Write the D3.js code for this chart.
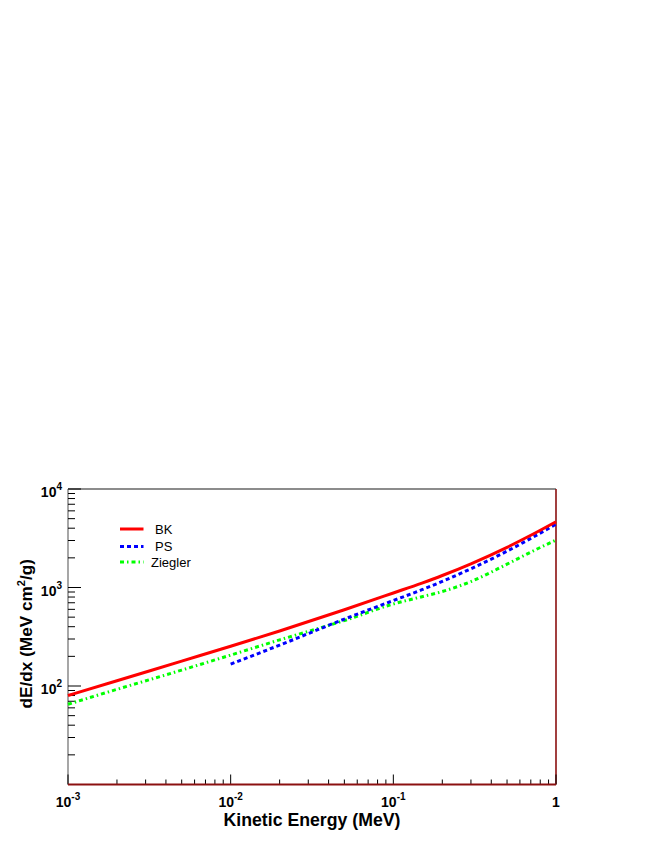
<!DOCTYPE html>
<html>
<head>
<meta charset="utf-8">
<script src="https://cdn.jsdelivr.net/npm/d3@7"></script>
<style>
    body { margin: 0; background: #fff; }
    text { font-family: "Liberation Sans", Arial, Helvetica, sans-serif; }
</style>
</head>
<body>
<svg id="chart_svg" width="654" height="846"></svg>
<script>
// kinetic energy grid (MeV) and stopping powers (MeV cm2/g)
const g_energy = [0.001, 0.002, 0.005, 0.01, 0.02, 0.05, 0.1, 0.15, 0.2, 0.3, 0.5, 0.7, 1.0];
const g_bk = [80, 113, 179, 253, 362, 594, 880, 1110, 1324, 1740, 2560, 3390, 4656];
const g_ps = [null, null, null, 167, 260, 478, 737, 950, 1153, 1550, 2340, 3150, 4400];
const g_ziegler = [65.2, 92.5, 145, 206, 294, 462, 680, 807, 910, 1150, 1725, 2287, 3035];

const g_series_names = ["BK", "PS", "Ziegler"];
const g_series_colors = ["#ff0000", "#0000ff", "#00ff00"];
const g_series_dash = [null, "4,3", "4,3,1.5,3"];

const g_x_ticks = [-3, -2, -1, 0]; // exponents, "10^0" printed as "1"
const g_y_ticks = [2, 3, 4];

// frame
const gv_left = 68, gv_right = 556, gv_top = 489, gv_bottom = 784.5;

var g_svg, g_x_scaler, g_y_scaler;

initialize_svg();
draw_axes();
draw_curves();
draw_legend();

function initialize_svg() {
    g_svg = d3.select("#chart_svg");
    g_svg.append("rect").attr("width", 654).attr("height", 846).attr("fill", "#fff");
    g_x_scaler = d3.scaleLog().domain([1e-3, 1]).range([gv_left, gv_right]); // energy to pixel
    g_y_scaler = d3.scaleLog().domain([10, 1e4]).range([gv_bottom, gv_top]); // dE/dx to pixel
}

function draw_axes() {
    var g = g_svg.append("g");

    // frame: top & left grey, bottom & right dark red
    g.append("line").attr("x1", gv_left).attr("x2", gv_right).attr("y1", gv_top).attr("y2", gv_top)
        .attr("style", "stroke:#666; stroke-width:1.3");
    g.append("line").attr("x1", gv_right).attr("x2", gv_right).attr("y1", gv_top).attr("y2", gv_bottom)
        .attr("style", "stroke:#8b1010; stroke-width:1.6");
    g.append("line").attr("x1", gv_left).attr("x2", gv_left).attr("y1", gv_top).attr("y2", gv_bottom)
        .attr("style", "stroke:#777; stroke-width:1.3");

    // x ticks (major + minor), pointing up into the frame
    var x_minor = [];
    d3.range(-3, 0).forEach(function (ex) {
        d3.range(2, 10).forEach(m => x_minor.push(m * Math.pow(10, ex)));
    });
    g.selectAll(".x_minor").data(x_minor).join("line").classed("x_minor", true)
        .attr("x1", d => g_x_scaler(d)).attr("x2", d => g_x_scaler(d))
        .attr("y1", gv_bottom).attr("y2", gv_bottom - 5)
        .attr("style", "stroke:#000; stroke-width:1");
    g.selectAll(".x_major").data(g_x_ticks).join("line").classed("x_major", true)
        .attr("x1", d => g_x_scaler(Math.pow(10, d))).attr("x2", d => g_x_scaler(Math.pow(10, d)))
        .attr("y1", gv_bottom).attr("y2", gv_bottom - 10)
        .attr("style", "stroke:#000; stroke-width:1");
    g.append("line").attr("x1", gv_left).attr("x2", gv_right).attr("y1", gv_bottom).attr("y2", gv_bottom)
        .attr("style", "stroke:#8b1010; stroke-width:2");

    // y ticks (major + minor), pointing right into the frame
    var y_minor = [];
    d3.range(1, 4).forEach(function (ex) {
        d3.range(2, 10).forEach(m => y_minor.push(m * Math.pow(10, ex)));
    });
    g.selectAll(".y_minor").data(y_minor).join("line").classed("y_minor", true)
        .attr("x1", gv_left).attr("x2", gv_left + 7)
        .attr("y1", d => g_y_scaler(d)).attr("y2", d => g_y_scaler(d))
        .attr("style", "stroke:#000; stroke-width:1");
    g.selectAll(".y_major").data(g_y_ticks).join("line").classed("y_major", true)
        .attr("x1", gv_left).attr("x2", gv_left + 13)
        .attr("y1", d => g_y_scaler(Math.pow(10, d))).attr("y2", d => g_y_scaler(Math.pow(10, d)))
        .attr("style", "stroke:#000; stroke-width:1");

    // tick labels
    g_x_ticks.forEach(function (ex) {
        var t = g.append("text").attr("x", g_x_scaler(Math.pow(10, ex))).attr("y", 807)
            .attr("text-anchor", "middle").attr("font-size", 14).attr("font-weight", "bold");
        power_label(t, ex);
    });
    g_y_ticks.forEach(function (ex) {
        var t = g.append("text").attr("x", 62).attr("y", g_y_scaler(Math.pow(10, ex)) + 8)
            .attr("text-anchor", "end").attr("font-size", 14).attr("font-weight", "bold");
        power_label(t, ex);
    });

    // axis titles
    g.append("text").attr("x", (gv_left + gv_right) / 2).attr("y", 826)
        .attr("text-anchor", "middle").attr("font-size", 17.7).attr("font-weight", "bold")
        .text("Kinetic Energy (MeV)");
    var yt = g.append("text").attr("transform", "translate(32," + ((gv_top + gv_bottom) / 2 - 3) + ") rotate(-90)")
        .attr("text-anchor", "middle").attr("font-size", 17.2).attr("font-weight", "bold");
    yt.append("tspan").text("dE/dx (MeV cm");
    yt.append("tspan").attr("dy", -7).attr("font-size", 11).text("2");
    yt.append("tspan").attr("dy", 7).text("/g)");
}

function power_label(p_text, p_exp) {
    if (p_exp == 0) { p_text.text("1"); return; }
    p_text.append("tspan").text("10");
    p_text.append("tspan").attr("dy", -7).attr("font-size", 10).text(p_exp);
}

function draw_curves() {
    var line = d3.line()
        .x(d => g_x_scaler(d.e)).y(d => g_y_scaler(d.v))
        .curve(d3.curveMonotoneX);
    var all = [g_bk, g_ps, g_ziegler];
    var g = g_svg.append("g");
    // draw back to front: Ziegler, PS, BK
    [2, 1, 0].forEach(function (i) {
        var pts = g_energy.map((e, j) => ({ e: e, v: all[i][j] })).filter(d => d.v != null);
        g.append("path").datum(pts)
            .attr("d", line)
            .attr("fill", "none")
            .attr("stroke", g_series_colors[i])
            .attr("stroke-width", 3)
            .attr("stroke-dasharray", g_series_dash[i]);
    });
}

function draw_legend() {
    var g = g_svg.append("g");
    var rows = [529, 546.5, 562]; // row centre y
    var txt_x = [155, 155, 151];
    g_series_names.forEach(function (name, i) {
        g.append("line").attr("x1", 120).attr("x2", 143.5).attr("y1", rows[i]).attr("y2", rows[i])
            .attr("stroke", g_series_colors[i]).attr("stroke-width", 3)
            .attr("stroke-dasharray", g_series_dash[i]);
        g.append("text").attr("x", txt_x[i]).attr("y", rows[i] + 4.5)
            .attr("font-size", 13).text(name);
    });
}
</script>
</body>
</html>
